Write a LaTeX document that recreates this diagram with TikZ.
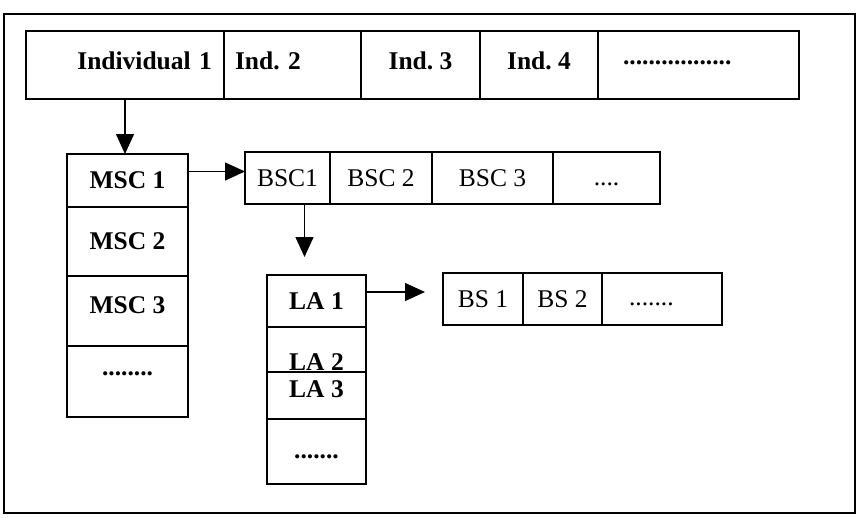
\documentclass[tikz,border=0pt]{standalone}
\usepackage{fontspec}
\setmainfont{Liberation Serif}
\usetikzlibrary{arrows.meta, positioning}
\newcommand{\cellfont}{\fontsize{25.5}{30}\selectfont\frenchspacing}

\begin{document}
\begin{tikzpicture}[
  x=1pt, y=-1pt,
  node distance=0pt,
  cell/.style={rectangle, draw, line width=1.3pt, outer sep=0pt,
               inner sep=0pt, font=\cellfont},
  indcell/.style={cell, font=\cellfont\bfseries,
                  text height=38pt, text depth=30pt},
  msccell/.style={cell, font=\cellfont\bfseries, minimum width=121pt},
  bsccell/.style={cell, minimum height=52pt},
  lacell/.style={cell, font=\cellfont\bfseries, minimum width=99pt},
  bscell/.style={cell, minimum height=52pt},
  arr/.style={-{Triangle[length=20pt, width=18pt]}, line width=1.3pt},
]
\useasboundingbox (0,0) rectangle (857,517);
\draw[line width=1.4pt] (4,14) rectangle (855,513);

% individuals
\node[indcell, anchor=north west, text width=174pt, inner xsep=12pt,
      align=right] (ind1) at (26,31) {Individual 1};
\node[indcell, right=of ind1, text width=115pt, inner xsep=11pt,
      align=left] (ind2) {Ind. 2};
\node[indcell, right=of ind2, minimum width=119pt] (ind3) {Ind. 3};
\node[indcell, right=of ind3, minimum width=118pt] (ind4) {Ind. 4};
\node[indcell, right=of ind4, text width=151pt, inner xsep=25pt,
      align=left, text height=33pt, text depth=35pt] (inddots) {.................};

% MSC column
\node[msccell, anchor=north west, minimum height=53pt] (msc1) at (67,154) {MSC 1};
\node[msccell, below=of msc1, minimum height=69pt] (msc2) {MSC 2};
\node[msccell, below=of msc2, text height=37pt, text depth=33pt] (msc3) {MSC 3};
\node[msccell, below=of msc3, text height=29pt, text depth=42pt] (mscdots) {........};

% BSC row
\node[bsccell, anchor=north west, minimum width=85pt] (bsc1) at (245,152) {BSC1};
\node[bsccell, right=of bsc1, minimum width=102pt] (bsc2) {BSC 2};
\node[bsccell, right=of bsc2, minimum width=121pt] (bsc3) {BSC 3};
\node[bsccell, right=of bsc3, minimum width=107pt,
      text height=33pt, text depth=19pt] (bscdots) {....};

% LA column
\node[lacell, anchor=north west, minimum height=52pt] (la1) at (267,275) {LA 1};
\node[lacell, below=of la1, text height=43pt, text depth=2pt] (la2) {LA 2};
\node[lacell, below=of la2, text height=25pt, text depth=22pt] (la3) {LA 3};
\node[lacell, below=of la3, text height=39pt, text depth=26pt] (ladots) {.......};

% BS row
\node[bscell, anchor=north west, minimum width=80pt] (bs1) at (443,273) {BS 1};
\node[bscell, right=of bs1, minimum width=79pt] (bs2) {BS 2};
\node[bscell, right=of bs2, text width=66pt, inner xsep=27pt,
      align=left, text height=32pt, text depth=20pt] (bsdots) {.......};

\coordinate (laarrow) at ([xshift=17pt, yshift=-53pt]bsc1.south);
\coordinate (bsarrow) at ([xshift=59pt, yshift=9pt]la1.east);

\draw[arr] (ind1.south) -- (ind1.south |- msc1.north);
\draw[arr] ([yshift=9pt]msc1.east) -- ([yshift=9pt]msc1.east -| bsc1.west);
\draw[arr] ([xshift=17pt]bsc1.south) -- (laarrow);
\draw[arr] ([yshift=9pt]la1.east) -- (bsarrow);

\end{tikzpicture}
\end{document}
